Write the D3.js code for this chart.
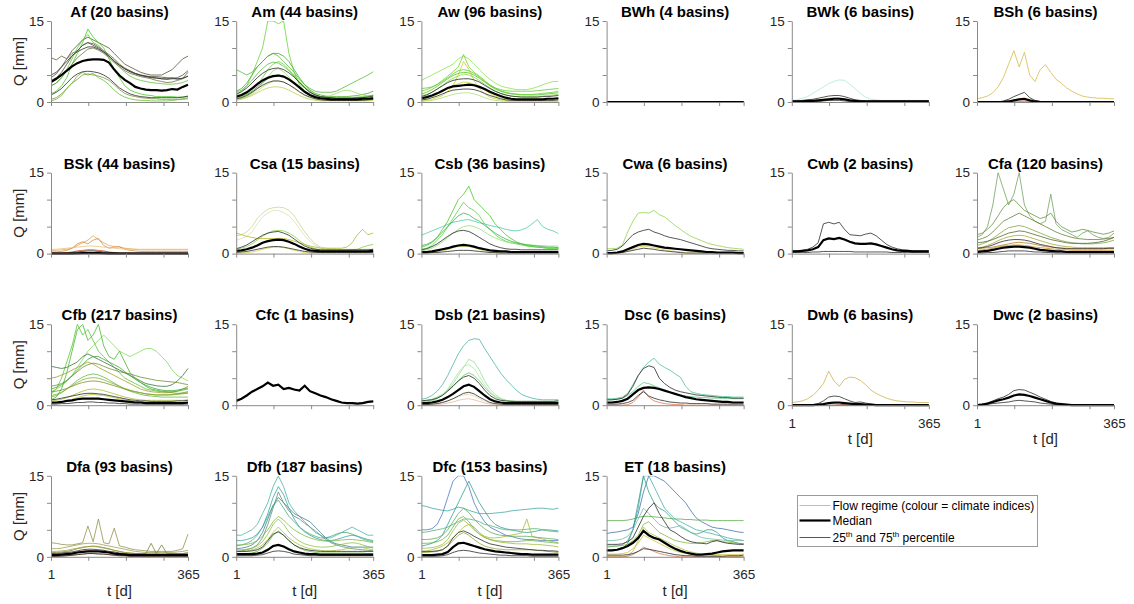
<!DOCTYPE html>
<html>
<head>
<meta charset="utf-8">
<script src="https://cdn.jsdelivr.net/npm/d3@7"></script>
<style>
body { margin: 0; background: #fff; }
text { font-family: "Liberation Sans", Arial, sans-serif; }
</style>
</head>
<body>
<div id="chart"></div>
<script>

// day of year for every stored value (every 14th day)
var days = d3.range(1, 366, 14);

var regimes = ["Af", "Am", "Aw", "BWh", "BWk", "BSh",
               "BSk", "Csa", "Csb", "Cwa", "Cwb", "Cfa",
               "Cfb", "Cfc", "Dsb", "Dsc", "Dwb", "Dwc",
               "Dfa", "Dfb", "Dfc", "ET"];
var basinCounts = [20, 44, 96, 4, 6, 6, 44, 15, 36, 6, 2, 120, 217, 1, 21, 6, 6, 2, 93, 187, 153, 18];

var yTicks = [0, 5, 10, 15];
var xTicks = [1, 100, 200, 300, 365];

// ---- Af
var medAf = [3.7,4.3,5.0,5.8,6.6,7.2,7.6,7.8,7.9,7.9,7.8,7.3,6.0,4.9,4.1,3.5,2.8,2.5,2.3,2.2,2.2,2.1,2.2,2.4,2.3,2.8,3.2];
var p75Af = [5,5.5,6.5,7.5,8.6,9.3,9.8,10.2,10.2,9.8,9.3,8.5,7.6,6.8,6.1,5.6,5.2,4.9,4.7,4.5,4.4,4.3,4.2,4.3,4.3,4.4,4.8];
var p25Af = [1.3,1.8,2.5,3.5,4.5,5.2,5.6,5.7,5.6,5.4,5,4.4,3.5,2.6,2,1.5,1.2,1,0.9,0.8,0.8,0.8,0.8,0.8,0.8,0.9,1.1];
var basAf = [
  [4.5,5.2,6.5,8,9.5,10.5,11.5,12,11.5,11,10.5,10,9,8,7,6.5,6,5.5,5.2,5,5,5,5.5,6,7,8,8.5],
  [8.2,7.8,8.5,8,9,9.5,10.5,11,10.8,10.2,9.5,8.8,8,7,6.3,5.8,5.3,5,4.8,4.6,4.5,4.3,4.3,4.5,4.2,4.4,5.5],
  [3,3.5,4.5,5.8,7,8.2,9,9.8,10,9.6,9,8.2,7.3,6.5,5.8,5.3,5,4.7,4.5,4.3,4,3.8,3.6,3.7,4,4.3,4.8],
  [1.5,2,3,4.5,7,9,11,13.5,12,11,10,8,6,4.5,3,2.2,1.8,1.5,1.3,1.2,1,1,1,1,0.9,0.9,1],
  [0.5,0.8,1.5,2.5,3.5,4.2,5,5.2,5,4.8,4.5,4,3.2,2.3,1.6,1.2,1,0.8,0.7,0.6,0.6,0.5,0.5,0.5,0.5,0.5,0.6],
  [0.2,0.5,1.2,2.5,3.5,4.8,5.5,5,5.3,4.5,4,3.2,2.2,1.4,0.9,0.6,0.4,0.3,0.3,0.2,0.2,0.2,0.2,0.3,0.4,0.6,0.8],
  [4,4.5,5.5,7,8.5,9.5,10.5,11,10.5,10,9.2,8.5,7.5,6.8,6.2,5.7,5.3,5,4.8,4.7,4.7,4.6,4.5,4.4,4.5,5,5.8],
  [3,3.5,4.5,6,8,10,11.5,12.5,11,10.5,9.5,8.5,7.5,6.5,5.5,4.8,4.3,4,3.8,3.6,3.5,3.4,3.3,3.3,3.4,3.6,4]
];
var colAf = ["#4b4a2c", "#56532f", "#6b6a3a", "#3fc41a", "#7d8a3a", "#5dbb2c", "#45432a", "#58c030"];

// ---- Am
var medAm = [1,1.3,1.8,2.5,3.3,4,4.5,4.8,4.9,4.7,4.2,3.5,2.7,1.9,1.3,0.9,0.7,0.6,0.5,0.5,0.5,0.5,0.5,0.5,0.6,0.6,0.7];
var p75Am = [1.5,1.9,2.6,3.5,4.5,5.3,5.9,6.2,6.3,6,5.4,4.6,3.6,2.6,1.8,1.3,1,0.9,0.8,0.7,0.7,0.7,0.7,0.8,0.8,0.9,1.1];
var p25Am = [0.6,0.8,1.2,1.8,2.5,3.1,3.6,3.9,3.9,3.7,3.2,2.6,1.9,1.3,0.9,0.6,0.4,0.3,0.3,0.3,0.3,0.3,0.3,0.3,0.3,0.4,0.5];
var basAm = [
  [1.2,2,3,5,7.5,10,15,15,14.5,15,9,5.5,3.2,2,1.2,0.9,0.7,0.6,0.5,0.5,0.5,0.5,0.5,0.6,0.6,0.7,0.8],
  [6,5.5,5,5.5,6.5,7.5,8.5,9,8.5,7.5,6.5,5.5,4.2,3.2,2.5,2,1.8,1.8,1.8,2,2.5,3,3.5,4,4.5,5,5.6],
  [2,2.5,3.5,5,6.5,7.5,8.5,9,9,8.5,7.5,6,4.5,3.2,2.2,1.6,1.3,1.1,1,1,1,1,1.1,1.2,1.4,1.6,2],
  [0.3,0.5,0.8,1.2,1.7,2.2,2.6,2.8,2.8,2.6,2.2,1.7,1.2,0.8,0.5,0.3,0.2,0.2,0.2,0.2,0.2,0.2,0.2,0.2,0.2,0.2,0.3],
  [1,1.2,1.6,2.3,3.2,4.5,6,7,7.5,7,6,5,3.8,2.8,2,1.4,1,0.8,0.7,0.6,0.6,0.6,0.6,0.7,0.8,1,1.2],
  [0.8,1,1.4,2,2.8,3.6,4.3,4.8,5,4.8,4.3,3.5,2.6,1.8,1.2,0.8,0.6,0.5,0.4,0.4,0.4,0.4,0.4,0.4,0.5,0.5,0.6],
  [0.5,0.7,1,1.6,2.4,3.4,4.6,5.8,6.2,5.6,4.6,3.6,2.6,1.8,1.2,0.9,0.8,0.9,1.2,1.6,2,2.2,2,1.6,1.3,1.1,1],
  [1.8,2.2,3,4,5.2,6.2,7,7.4,7.2,6.6,5.8,4.8,3.6,2.6,1.8,1.3,1,0.9,0.8,0.8,0.8,0.8,0.8,0.9,1,1.1,1.3],
  [0.4,0.6,0.9,1.4,2,2.8,3.4,3.8,3.9,3.7,3.2,2.5,1.8,1.2,0.8,0.5,0.4,0.3,0.3,0.3,0.3,0.3,0.3,0.3,0.3,0.3,0.4]
];
var colAm = ["#5fd22d", "#4cb82a", "#3daa1e", "#b8cc50", "#6cc83c", "#2f9a1c", "#90d860", "#48c030", "#c4d860"];

// ---- Aw
var medAw = [0.7,0.9,1.2,1.6,2.1,2.6,2.9,3,3.1,3.2,3.1,2.8,2.4,1.9,1.5,1.1,0.8,0.6,0.5,0.5,0.5,0.5,0.5,0.5,0.6,0.6,0.7];
var p75Aw = [1,1.3,1.8,2.4,3,3.6,4,4.2,4.3,4.3,4.1,3.7,3.1,2.5,2,1.6,1.3,1.1,1,0.9,0.9,0.9,0.9,1,1,1.1,1.2];
var p25Aw = [0.4,0.5,0.8,1.1,1.5,1.9,2.2,2.3,2.4,2.4,2.3,2,1.6,1.2,0.9,0.6,0.4,0.3,0.3,0.3,0.3,0.3,0.3,0.3,0.3,0.3,0.4];
var basAw = [
  [4,4.5,5,5.5,6,6.5,7,8,8.5,8,7,6,5,4.2,3.5,3,2.7,2.5,2.3,2.3,2.3,2.5,2.8,3.2,3.5,3.8,3.8],
  [2,2.3,2.7,3.3,4,4.8,5.6,6.5,8.8,6.5,5.5,4.8,4,3.2,2.6,2.1,1.8,1.6,1.5,1.4,1.4,1.4,1.5,1.6,1.7,1.8,2],
  [0.2,0.3,0.5,0.8,1.2,2,3,5,7.5,6,4,2.5,1.5,0.9,0.6,0.4,0.3,0.2,0.2,0.2,0.2,0.2,0.2,0.2,0.2,0.2,0.2],
  [1.5,1.8,2.3,2.9,3.6,4.3,4.9,5.3,5.5,5.4,5,4.4,3.7,3,2.4,2,1.7,1.5,1.4,1.3,1.3,1.3,1.3,1.4,1.5,1.6,1.7],
  [0.1,0.2,0.3,0.5,0.8,1.1,1.4,1.6,1.7,1.7,1.5,1.2,0.8,0.5,0.3,0.2,0.1,0.1,0.1,0.1,0.1,0.1,0.1,0.1,0.1,0.1,0.1],
  [2.5,2.6,2.8,3.2,3.8,4.5,5.2,5.8,6,5.8,5.3,4.6,3.8,3.1,2.6,2.3,2.1,2,2,2,2,2,2.1,2.2,2.3,2.4,2.5],
  [1.2,1.4,1.8,2.4,3.1,3.8,4.4,4.8,5.2,5,4.6,4,3.3,2.6,2,1.6,1.3,1.1,1,1,1,1,1,1.1,1.2,1.3,1.4],
  [0.6,0.7,1,1.4,1.9,2.5,3,3.4,3.7,3.6,3.3,2.8,2.2,1.6,1.1,0.8,0.6,0.5,0.5,0.5,0.5,0.5,0.5,0.5,0.6,0.6,0.7]
];
var colAw = ["#86e04a", "#66d41e", "#c8d01e", "#4cc21a", "#a6e070", "#58c828", "#72d83a", "#b4d82c"];

// ---- BWh
var medBWh = [0,0,0,0,0,0,0,0,0,0,0,0,0,0,0,0,0,0,0,0,0,0,0,0,0,0,0];
var p75BWh = medBWh;
var p25BWh = medBWh;
var basBWh = [];
var colBWh = [];

// ---- BWk
var medBWk = [0.1,0.1,0.1,0.2,0.2,0.3,0.4,0.5,0.6,0.6,0.5,0.3,0.2,0.1,0.1,0.1,0.1,0.1,0.1,0.1,0.1,0.1,0.1,0.1,0.1,0.1,0.1];
var p75BWk = [0.2,0.2,0.3,0.4,0.5,0.7,0.9,1.1,1.2,1.2,1,0.7,0.4,0.3,0.2,0.2,0.2,0.2,0.2,0.2,0.2,0.2,0.2,0.2,0.2,0.2,0.2];
var p25BWk = [0,0,0,0.1,0.1,0.1,0.2,0.3,0.3,0.3,0.2,0.1,0.1,0,0,0,0,0,0,0,0,0,0,0,0,0,0];
var basBWk = [
  [0.3,0.4,0.7,1,1.6,2.2,2.8,3.4,3.8,4.1,4,3.3,2.5,1.6,0.9,0.5,0.4,0.3,0.3,0.3,0.3,0.3,0.3,0.3,0.3,0.3,0.3],
  [0.1,0.1,0.2,0.2,0.3,0.4,0.5,0.7,0.8,0.8,0.6,0.4,0.3,0.2,0.2,0.2,0.2,0.2,0.2,0.2,0.2,0.2,0.2,0.2,0.2,0.2,0.2]
];
var colBWk = ["#a8e8d0", "#e0c080"];

// ---- BSh
var medBSh = [0,0,0,0,0,0,0.1,0.3,0.5,0.6,0.3,0.1,0,0,0,0,0,0,0,0,0,0,0,0,0,0,0];
var p75BSh = [0,0,0,0,0,0.2,0.5,1,1.4,1.8,0.8,0.3,0.1,0,0,0,0,0,0,0,0,0,0,0,0,0,0];
var p25BSh = [0,0,0,0,0,0,0,0,0,0,0,0,0,0,0,0,0,0,0,0,0,0,0,0,0,0,0];
var basBSh = [
  [0.6,0.8,1.1,1.7,2.8,4.5,7,9.5,6.5,9.2,5,3.8,6,6.9,5.5,4.2,3.5,2.6,2,1.5,1.1,0.9,0.8,0.7,0.7,0.6,0.6],
  [0,0,0,0,0,0.1,0.2,0.3,0.4,0.3,0.2,0.1,0,0,0,0,0,0,0,0,0,0,0,0,0,0,0]
];
var colBSh = ["#d4b43c", "#e07050"];

// ---- BSk
var medBSk = [0,0,0,0,0,0.05,0.1,0.1,0.1,0.1,0.05,0,0,0,0,0,0,0,0,0,0,0,0,0,0,0,0];
var p75BSk = [0.1,0.1,0.1,0.1,0.2,0.3,0.4,0.5,0.5,0.4,0.3,0.2,0.2,0.1,0.1,0.1,0.1,0.1,0.1,0.1,0.1,0.1,0.1,0.1,0.1,0.1,0.1];
var p25BSk = [0,0,0,0,0,0,0,0,0,0,0,0,0,0,0,0,0,0,0,0,0,0,0,0,0,0,0];
var basBSk = [
  [0.6,0.6,0.7,0.8,1,1.5,2,2.5,3.3,2.6,2,1.5,1.3,1.2,1,0.9,0.8,0.7,0.7,0.7,0.7,0.7,0.7,0.7,0.7,0.7,0.7],
  [0.3,0.3,0.4,0.6,1,1.8,2.2,1.8,2.5,2.8,1.5,1,1.2,1.3,0.8,0.6,0.5,0.4,0.4,0.4,0.4,0.4,0.4,0.4,0.4,0.4,0.4],
  [0.1,0.1,0.1,0.2,0.3,0.5,0.6,0.7,0.7,0.6,0.5,0.3,0.2,0.1,0.1,0.1,0.1,0.1,0.1,0.1,0.1,0.1,0.1,0.1,0.1,0.1,0.1],
  [0.8,0.8,0.9,1,1.1,1.2,1.3,1.4,1.4,1.3,1.2,1.1,1,0.9,0.9,0.8,0.8,0.8,0.8,0.8,0.8,0.8,0.8,0.8,0.8,0.8,0.8]
];
var colBSk = ["#e0a050", "#d08a40", "#c83c20", "#e8c070"];

// ---- Csa
var medCsa = [0.5,0.6,0.8,1.1,1.5,2,2.3,2.5,2.6,2.5,2.2,1.8,1.3,0.9,0.6,0.5,0.4,0.4,0.4,0.4,0.4,0.4,0.4,0.4,0.4,0.4,0.5];
var p75Csa = [0.9,1.2,1.6,2.2,2.8,3.4,3.8,4,4.1,3.8,3.4,2.7,2,1.4,1,0.8,0.7,0.7,0.7,0.7,0.7,0.7,0.7,0.7,0.7,0.7,0.8];
var p25Csa = [0.2,0.3,0.4,0.6,0.8,1,1.2,1.3,1.3,1.2,1,0.8,0.6,0.4,0.3,0.2,0.2,0.2,0.2,0.2,0.2,0.2,0.2,0.2,0.2,0.2,0.2];
var basCsa = [
  [3.3,3.5,4,5,6.5,7.5,8.2,8.5,8.6,8.5,8,7,5.5,4,2.8,1.8,1.2,1,0.9,0.9,0.8,0.8,0.8,0.8,0.8,0.8,0.8],
  [2.5,2.8,3.2,4,5.5,6.8,7.5,8,8,7.6,7,6,4.6,3.3,2.3,1.5,1,0.8,0.7,0.7,0.7,0.7,0.7,0.7,0.7,0.7,0.7],
  [3.8,3.5,3.2,3,2.8,2.8,2.8,2.8,2.8,2.8,2.6,2.3,2,1.7,1.4,1.2,1,1,1,1,1,1.2,2,3.5,4.5,3.5,3.8],
  [0.8,1,1.3,1.8,2.5,3.2,3.8,4.2,4.3,4.2,3.8,3.2,2.4,1.7,1.2,0.9,0.7,0.6,0.6,0.6,0.6,0.6,0.7,0.8,1.2,1.5,1.7],
  [0.1,0.1,0.2,0.3,0.5,0.8,1,1.2,1.2,1.1,0.9,0.6,0.4,0.2,0.1,0.1,0.1,0.1,0.1,0.1,0.1,0.1,0.1,0.1,0.1,0.1,0.1]
];
var colCsa = ["#c4d48c", "#d8e0b0", "#b4b41e", "#7ccc3a", "#d4d040"];

// ---- Csb
var medCsb = [0.3,0.3,0.4,0.6,0.8,1,1.3,1.5,1.6,1.5,1.3,1,0.8,0.6,0.5,0.4,0.4,0.3,0.3,0.3,0.3,0.3,0.3,0.3,0.3,0.3,0.3];
var p75Csb = [0.7,0.9,1.3,1.8,2.5,3.2,3.8,4.2,4.3,4.1,3.6,3,2.4,1.8,1.4,1.1,0.9,0.8,0.8,0.7,0.7,0.7,0.7,0.7,0.7,0.7,0.7];
var p25Csb = [0.1,0.1,0.2,0.2,0.3,0.4,0.5,0.6,0.6,0.6,0.5,0.4,0.3,0.2,0.2,0.1,0.1,0.1,0.1,0.1,0.1,0.1,0.1,0.1,0.1,0.1,0.1];
var basCsb = [
  [3.4,3.8,4.2,4.6,5,5.4,5.8,6,6.2,6.3,6,5.7,5.5,5.2,5,4.8,4.5,4.3,4.2,4.4,4.8,5.5,6.3,5,4.5,4.2,3.7],
  [1.2,1.5,2,3,4.5,6,8,10,11,12.5,10,9,8,7,5.5,4.5,3.5,2.8,2.2,1.8,1.5,1.3,1.2,1.1,1,1,1],
  [0.8,1,1.5,2.5,3.5,5,6.5,8,9.5,8.5,8,7,5.5,4.5,3.5,2.8,2.3,2,1.8,1.6,1.4,1.3,1.2,1.1,1,1,1],
  [0.5,0.7,1,1.5,2.2,3,3.8,4.5,5,5.2,5,4.6,4,3.4,2.9,2.5,2.2,2,1.9,1.8,1.7,1.6,1.5,1.5,1.4,1.4,1.4],
  [0.1,0.1,0.2,0.3,0.5,0.8,1.1,1.3,1.4,1.3,1.1,0.8,0.5,0.3,0.2,0.1,0.1,0.1,0.1,0.1,0.1,0.1,0.1,0.1,0.1,0.1,0.1],
  [1.5,1.7,2.2,3,4,5,6,7,7.5,7.2,6.5,6,5.2,4.5,3.8,3.2,2.7,2.3,2,1.8,1.6,1.5,1.4,1.3,1.2,1.2,1.1]
];
var colCsb = ["#44c8a8", "#3ec81e", "#50d038", "#8ee070", "#c0c830", "#2fb040"];

// ---- Cwa
var medCwa = [0.1,0.1,0.2,0.4,0.8,1.2,1.6,1.8,1.7,1.5,1.3,1.1,1,0.9,0.8,0.7,0.6,0.5,0.4,0.3,0.3,0.2,0.2,0.2,0.2,0.1,0.1];
var p75Cwa = [0.5,0.6,0.8,1.4,2.5,3.5,4,4.3,4.5,4,3.7,3.3,3,2.8,2.6,2.3,2,1.7,1.4,1.1,0.9,0.8,0.7,0.6,0.6,0.5,0.5];
var p25Cwa = [0,0,0.1,0.2,0.4,0.6,0.8,1,0.9,0.8,0.6,0.5,0.4,0.3,0.2,0.1,0.1,0.1,0.1,0.1,0.1,0.1,0.1,0.1,0.1,0.1,0.1];
var basCwa = [
  [0.9,0.9,1,1.6,4,6,7.5,7.6,7.5,8,7.2,6.8,6,5.2,4.5,3.8,3.2,2.8,2.4,2,1.7,1.5,1.3,1.1,1,0.9,0.8],
  [0,0,0.1,0.2,0.5,0.8,1.2,1.4,1.3,1.1,0.9,0.7,0.5,0.4,0.3,0.2,0.1,0.1,0.1,0.1,0.1,0.1,0.1,0.1,0.1,0,0]
];
var colCwa = ["#8cd040", "#d8d040"];

// ---- Cwb
var medCwb = [0.4,0.4,0.5,0.6,0.8,1.2,2.5,2.8,2.7,2.9,2.6,2.2,1.9,1.8,1.8,1.9,1.7,1.4,1.1,0.8,0.6,0.5,0.5,0.4,0.4,0.4,0.4];
var p75Cwb = [0.5,0.5,0.6,0.8,1.2,2,5.5,5.8,5.5,5.8,4.5,3.5,3.4,3.3,3.6,3.8,3.3,2.5,1.7,1.2,0.9,0.7,0.6,0.5,0.5,0.5,0.5];
var p25Cwb = [0.2,0.2,0.2,0.2,0.3,0.3,0.4,0.4,0.4,0.4,0.4,0.4,0.3,0.3,0.3,0.3,0.3,0.3,0.3,0.2,0.2,0.2,0.2,0.2,0.2,0.2,0.2];
var basCwb = [];
var colCwb = [];

// ---- Cfa
var medCfa = [0.3,0.4,0.5,0.7,0.9,1.1,1.2,1.3,1.3,1.2,1.1,0.9,0.7,0.6,0.5,0.4,0.4,0.3,0.3,0.3,0.3,0.3,0.3,0.3,0.3,0.3,0.3];
var p75Cfa = [1,1.1,1.3,1.6,2,2.3,2.5,2.6,2.6,2.5,2.3,2,1.7,1.5,1.3,1.1,1,0.9,0.9,0.9,0.9,0.9,0.9,0.9,0.9,1,1];
var p25Cfa = [0.1,0.1,0.2,0.2,0.3,0.4,0.5,0.5,0.5,0.5,0.4,0.3,0.3,0.2,0.2,0.1,0.1,0.1,0.1,0.1,0.1,0.1,0.1,0.1,0.1,0.1,0.1];
var basCfa = [
  [3,3.5,5,9,15,12,9,11,15,9,7,6,5.5,6,11,5.5,4.5,4,3.5,3,3.8,4.2,3.5,3,2.8,3,3.8],
  [2.5,2.8,3.2,4,5,6,6.5,7,7.5,7,6.5,6,5.5,5,4.5,4,3.6,3.3,3,2.8,2.7,2.6,2.6,2.6,2.7,2.8,3],
  [1.5,1.8,2.2,2.8,3.5,4.2,4.8,5,5.2,5,4.6,4.2,3.8,3.4,3,2.7,2.4,2.2,2,1.9,1.8,1.8,1.8,1.9,2,2.2,2.5],
  [0.6,0.7,0.8,1,1.2,1.4,1.5,1.6,1.6,1.5,1.4,1.2,1.1,1,0.9,0.8,0.7,0.7,0.6,0.6,0.6,0.6,0.6,0.6,0.6,0.6,0.6],
  [1,1.2,1.5,1.9,2.4,2.8,3.1,3.3,3.4,3.3,3,2.7,2.4,2.1,1.8,1.6,1.4,1.3,1.2,1.1,1.1,1.1,1.1,1.1,1.1,1.1,1.1],
  [2,2.1,2.3,2.6,3,3.4,3.8,4,4.2,4.1,3.8,3.5,3.2,2.9,2.6,2.4,2.2,2,1.9,1.9,1.9,1.9,2,2.1,2.3,2.6,3],
  [0.9,1,1.1,1.2,1.4,1.6,1.8,2,2.1,2,1.9,1.7,1.5,1.3,1.2,1.1,1,1,0.9,0.9,0.9,0.9,0.9,0.9,0.9,0.9,0.9],
  [3.5,3.8,4.5,5.5,7,8.5,9.5,10,9,8,7.5,7,6.5,6.8,7.5,6,5,4.5,4,4.2,4.5,4.3,4,3.8,3.6,3.8,4.2]
];
var colCfa = ["#6e9e58", "#5a7a28", "#7aa03a", "#c88a1e", "#a8a028", "#4a6020", "#b07818", "#5e8e3a"];

// ---- Cfb
var medCfb = [0.5,0.5,0.6,0.8,0.9,1.1,1.2,1.2,1.2,1.2,1.1,1,0.9,0.8,0.7,0.6,0.5,0.5,0.4,0.4,0.4,0.4,0.4,0.4,0.4,0.4,0.5];
var p75Cfb = [1,1.1,1.3,1.5,1.7,1.9,2.1,2.2,2.2,2.1,2,1.8,1.6,1.4,1.2,1,0.9,0.8,0.8,0.7,0.7,0.7,0.7,0.7,0.8,0.8,0.9];
var p25Cfb = [0.2,0.2,0.3,0.3,0.4,0.5,0.5,0.6,0.6,0.5,0.5,0.4,0.4,0.3,0.3,0.2,0.2,0.2,0.2,0.2,0.2,0.2,0.2,0.2,0.2,0.2,0.2];
var basCfb = [
  [2,3,5,8,11,15,13,14,12,10,9,8,7,6,5,4.5,4,3.5,3,2.8,2.6,2.5,2.4,2.3,2.2,2.2,2.3],
  [2.5,3,3.5,4.5,5.5,7,8.5,10,11,12,13,12,11,10,9.5,9,9.5,10,10.5,10.5,10,9,8,6.5,5.5,5,4.5],
  [7.2,7,6.8,7,7.5,8,9,9.5,9,8.5,8,7.5,7,6.5,6,5.5,5,4.5,4,3.8,3.6,3.5,3.5,3.8,4.5,5.5,6.8],
  [5,5.2,5.6,6,6.5,7,7.5,8,7.6,7,6.5,6,5.5,5,4.5,4,3.5,3,2.7,2.5,2.4,2.3,2.3,2.4,2.6,3,3.5],
  [3,3.3,3.8,4.5,5.5,6.5,7.5,8.5,9,9,8.5,8,7.5,7,6.2,5.5,4.8,4.2,3.7,3.3,3,2.8,2.7,2.7,2.8,3,3.2],
  [0.3,0.4,0.6,0.8,1.1,1.4,1.7,1.9,2,1.9,1.8,1.6,1.4,1.2,1,0.8,0.7,0.6,0.5,0.5,0.4,0.4,0.4,0.4,0.4,0.4,0.4],
  [1.5,1.8,2.3,3,3.8,4.6,5.2,5.6,5.8,5.6,5.2,4.7,4.1,3.5,3,2.6,2.3,2,1.8,1.7,1.6,1.5,1.5,1.5,1.5,1.5,1.5],
  [2.5,2.6,2.8,3.1,3.5,3.9,4.2,4.4,4.5,4.4,4.2,3.9,3.6,3.3,3,2.7,2.5,2.3,2.1,2,1.9,1.9,1.9,2,2.1,2.3,2.5],
  [1,1.5,3,6,10,14,15,12,13,15,11,9,8.5,10,8,6,5,4.2,3.5,3,2.8,2.6,2.5,2.5,2.6,2.8,3],
  [3.5,3.7,4,4.6,5.4,6.2,7,7.5,7.8,7.6,7.2,6.8,6.5,6.2,6,5.8,5.5,5.2,5,4.8,4.6,4.5,4.4,4.3,4.2,4,3.8],
  [1.8,2,2.4,3,3.6,4.2,4.7,5,5.1,5,4.7,4.3,3.9,3.5,3.1,2.8,2.5,2.3,2.1,2,1.9,1.9,1.9,1.9,2,2.1,2.2],
  [0.8,0.9,1.1,1.4,1.8,2.2,2.6,2.9,3,2.9,2.7,2.4,2.1,1.8,1.5,1.3,1.1,1,0.9,0.9,0.9,0.9,0.9,0.9,0.9,0.9,1]
];
var colCfb = ["#4cc42c", "#7cd85a", "#2e6e2e", "#9a9a20", "#3aa030", "#b0c020", "#5ab83a", "#7a8a20", "#3cb41e", "#6a8a24", "#8aa82a", "#a6b828"];

// ---- Cfc (a single basin, so percentiles equal the median)
var medCfc = [0.8,1.2,1.8,2.5,3,3.5,4.2,3.6,3.8,3,3.2,2.9,2.7,3.6,2.6,2.2,1.8,1.5,1.1,0.8,0.5,0.4,0.4,0.3,0.4,0.6,0.7];
var p75Cfc = medCfc;
var p25Cfc = medCfc;
var basCfc = [];
var colCfc = [];

// ---- Dsb
var medDsb = [0.4,0.4,0.5,0.7,1,1.5,2.1,2.8,3.5,3.8,3.4,2.6,1.8,1.1,0.7,0.5,0.4,0.4,0.4,0.4,0.4,0.4,0.4,0.4,0.4,0.4,0.4];
var p75Dsb = [0.8,0.9,1,1.3,1.8,2.6,3.5,4.5,5.2,5.5,5,4,2.8,1.8,1.2,0.9,0.8,0.7,0.7,0.7,0.7,0.7,0.7,0.7,0.7,0.7,0.8];
var p25Dsb = [0.1,0.1,0.2,0.3,0.5,0.8,1.2,1.7,2.2,2.4,2.1,1.5,1,0.5,0.3,0.2,0.1,0.1,0.1,0.1,0.1,0.1,0.1,0.1,0.1,0.1,0.1];
var basDsb = [
  [1.1,1.3,1.8,2.6,3.8,5.5,7.5,9.5,11,12,12.3,12.2,10.5,9,7.5,6,4.8,3.8,2.8,2,1.6,1.3,1.1,1,1,1,1],
  [0.5,0.6,0.8,1.2,1.8,2.8,4,5.5,7,8.5,8,6.5,4.5,3,2,1.3,0.9,0.7,0.6,0.5,0.5,0.5,0.5,0.5,0.5,0.5,0.5],
  [0.8,0.9,1.1,1.5,2,2.8,3.6,4.5,5.5,6,5.5,4.5,3.3,2.3,1.6,1.1,0.9,0.8,0.7,0.7,0.7,0.7,0.7,0.7,0.7,0.7,0.8],
  [0.1,0.1,0.2,0.3,0.5,0.8,1.2,1.6,1.9,2,1.7,1.2,0.7,0.4,0.2,0.1,0.1,0.1,0.1,0.1,0.1,0.1,0.1,0.1,0.1,0.1,0.1],
  [0,0,0.1,0.1,0.2,0.4,0.6,0.9,1.1,1.2,1,0.7,0.4,0.2,0.1,0,0,0,0,0,0,0,0,0,0,0,0],
  [0.6,0.7,0.9,1.3,2,3,4.5,6,7.2,7.5,6.8,5.3,3.8,2.5,1.6,1.1,0.9,0.8,0.7,0.7,0.7,0.7,0.7,0.7,0.7,0.7,0.7]
];
var colDsb = ["#40b0a0", "#90e090", "#5ec850", "#e0d8a0", "#e0b8a0", "#a8e8a0"];

// ---- Dsc
var medDsc = [0.5,0.5,0.6,0.8,1.2,2,2.8,3.2,3.3,3.2,3,2.7,2.4,2.1,1.8,1.5,1.3,1.1,1,0.9,0.8,0.7,0.6,0.6,0.5,0.5,0.5];
var p75Dsc = [1,1,1.1,1.3,2,3.5,5.5,6.8,7.3,7,5,4,3.3,2.8,2.5,2.3,2.1,1.9,1.8,1.7,1.6,1.5,1.4,1.4,1.3,1.3,1.3];
var p25Dsc = [0.2,0.2,0.2,0.3,0.5,0.9,1.8,2.5,1.7,1.3,1,0.8,0.6,0.5,0.4,0.4,0.3,0.3,0.3,0.3,0.2,0.2,0.2,0.2,0.2,0.2,0.2];
var basDsc = [
  [1.2,1.2,1.3,1.5,2.2,3.8,5.5,7,8,8.7,7.6,7,6.5,5.8,5.2,3.5,2.5,2.2,2,1.9,1.8,1.7,1.6,1.6,1.5,1.5,1.5],
  [1,1,1.1,1.3,1.8,2.5,3.5,4.2,4,3.6,3.2,2.8,2.4,2.1,1.9,1.7,1.6,1.5,1.4,1.4,1.3,1.3,1.3,1.3,1.2,1.2,1.2],
  [0,0,0,0,0.1,0.5,1.5,2.8,1.5,0.8,0.5,0.3,0.2,0.1,0.1,0,0,0,0,0,0,0,0,0,0,0,0]
];
var colDsc = ["#44c090", "#50c878", "#e07048"];

// ---- Dwb
var medDwb = [0,0,0,0,0,0.1,0.2,0.4,0.5,0.5,0.4,0.3,0.2,0.2,0.1,0.1,0,0,0,0,0,0,0,0,0,0,0];
var p75Dwb = [0,0,0,0,0.1,0.3,0.8,1.5,1.7,1.6,1.2,0.8,0.5,0.6,0.4,0.2,0.1,0,0,0,0,0,0,0,0,0,0];
var p25Dwb = [0,0,0,0,0,0,0,0,0,0,0,0,0,0,0,0,0,0,0,0,0,0,0,0,0,0,0];
var basDwb = [
  [0.5,0.6,0.8,1.2,1.8,2.8,4,6.3,4.5,3.5,4.8,5.2,5.1,4.6,3.8,2.8,2.2,1.7,1.3,1,0.8,0.7,0.6,0.6,0.5,0.5,0.5],
  [0,0,0,0,0,0.1,0.2,0.3,0.3,0.2,0.1,0,0,0,0,0,0,0,0,0,0,0,0,0,0,0,0]
];
var colDwb = ["#c8b040", "#c04020"];

// ---- Dwc
var medDwc = [0,0.1,0.3,0.6,0.9,1.1,1.4,1.8,2,1.9,1.7,1.4,1.1,0.8,0.5,0.3,0.2,0.1,0,0,0,0,0,0,0,0,0];
var p75Dwc = [0.1,0.2,0.4,0.8,1.2,1.5,2,2.7,2.9,2.8,2.4,2,1.5,1.1,0.7,0.4,0.2,0.1,0,0,0,0,0,0,0,0,0];
var p25Dwc = [0,0.1,0.2,0.3,0.4,0.5,0.6,0.8,0.9,0.8,0.7,0.6,0.4,0.3,0.2,0.1,0,0,0,0,0,0,0,0,0,0,0];
var basDwc = [];
var colDwc = [];

// ---- Dfa
var medDfa = [0.3,0.3,0.4,0.5,0.6,0.8,0.9,1,1,1,0.9,0.8,0.6,0.5,0.4,0.3,0.3,0.3,0.3,0.3,0.3,0.3,0.3,0.3,0.3,0.3,0.3];
var p75Dfa = [0.6,0.6,0.7,0.8,0.9,1.1,1.3,1.4,1.4,1.3,1.2,1,0.9,0.7,0.6,0.5,0.5,0.5,0.5,0.5,0.5,0.5,0.5,0.5,0.5,0.5,0.5];
var p25Dfa = [0.1,0.1,0.1,0.2,0.3,0.4,0.5,0.6,0.6,0.5,0.5,0.4,0.3,0.2,0.2,0.1,0.1,0.1,0.1,0.1,0.1,0.1,0.1,0.1,0.1,0.1,0.1];
var basDfa = [
  [2.6,2.5,2.3,2.2,2.2,2.4,2.6,5.7,2.8,7,2.6,2.4,5.3,2,1.8,1.5,1.3,1.2,1.1,1,1,1,1,1,1.2,1.5,4.2],
  [1.5,1.5,1.6,1.8,2,2.2,2.4,2.5,2.5,2.4,2.2,2,1.8,1.6,1.4,1.2,1,0.9,0.8,0.8,0.8,0.8,0.8,0.8,0.9,1,1.2],
  [0.8,0.8,0.9,1,1.2,1.5,1.7,1.9,2,1.9,1.7,1.5,1.2,1,0.8,0.7,0.6,0.6,0.6,2.5,0.6,2.2,0.6,0.6,0.6,0.6,0.7],
  [0.1,0.1,0.2,0.2,0.3,0.4,0.5,0.6,0.6,0.6,0.5,0.4,0.3,0.2,0.2,0.1,0.1,0.1,0.1,0.1,0.1,0.1,0.1,0.1,0.1,0.1,0.1],
  [1,1,1.1,1.2,1.4,1.6,1.8,1.9,1.9,1.8,1.6,1.4,1.2,1,0.8,0.7,0.6,0.5,0.5,0.5,0.5,0.5,0.5,0.5,0.5,0.6,0.8],
  [0.4,0.4,0.5,0.6,0.7,0.9,1,1.1,1.1,1,0.9,0.8,0.7,0.5,0.4,0.4,0.3,0.3,0.3,0.3,0.3,0.3,0.3,0.3,0.3,0.3,0.4]
];
var colDfa = ["#8c8c40", "#9a9a50", "#7a7a30", "#d05030", "#a0a040", "#c86a30"];

// ---- Dfb
var medDfb = [0.5,0.5,0.5,0.5,0.6,0.8,1.3,2,2.2,1.9,1.4,1,0.8,0.6,0.5,0.5,0.4,0.4,0.4,0.4,0.4,0.4,0.4,0.4,0.4,0.4,0.4];
var p75Dfb = [1,1,1,1.1,1.3,1.8,3,4.2,4.6,4,3,2.2,1.7,1.4,1.2,1.1,1,1,1,1,1,1,1,1,1,1,1];
var p25Dfb = [0.2,0.2,0.2,0.2,0.3,0.4,0.7,1,1.1,1,0.8,0.5,0.4,0.3,0.2,0.2,0.2,0.2,0.2,0.2,0.2,0.2,0.2,0.2,0.2,0.2,0.2];
var basDfb = [
  [4,4,4.5,5,6,8,10,13,15,13,10,8.5,7.5,6.5,5.5,4.5,4,3.5,3.5,4,4.5,5,5.5,5,4.5,4,4],
  [1.5,1.6,1.8,2.2,3,4.5,7,9.5,11,10,9,8,7.5,7,6.5,5.5,4.5,3.5,2.8,2.4,2.2,2,1.8,1.8,1.8,1.8,1.8],
  [2,2.2,2.5,3,4,5.5,7.5,9.5,10.5,9,7.5,6.5,5.5,4.8,4.2,3.8,3.5,3.5,3.8,4.2,4.5,4.5,4.2,3.8,3.3,3,2.8],
  [1,1.1,1.3,1.6,2.2,3.5,6,9,12,10,8.5,7.5,7,6.2,5.5,4.8,4,3.2,2.6,2.2,1.9,1.7,1.5,1.4,1.3,1.2,1.1],
  [1,1,1.1,1.3,1.6,2.2,3.2,4.5,5.5,4.5,3.5,2.8,2.2,1.8,1.5,1.3,1.2,1.1,1.1,1.2,1.3,1.5,1.7,1.8,1.7,1.5,1.3],
  [0.5,0.5,0.6,0.7,1,1.6,2.6,4,4.8,4,3,2.2,1.6,1.2,1,0.8,0.7,0.7,0.7,0.7,0.7,0.7,0.7,0.7,0.7,0.6,0.6],
  [0.2,0.2,0.3,0.4,0.5,0.8,1.2,1.8,2.2,1.8,1.3,0.9,0.6,0.4,0.3,0.3,0.2,0.2,0.2,0.2,0.2,0.2,0.2,0.2,0.2,0.2,0.2],
  [3,3,3.2,3.5,4.2,5.5,8,11,13,11.5,9,7,5.5,4.6,4,3.5,3.2,3,3,3.2,3.5,3.8,4,3.8,3.5,3.2,3],
  [2.2,2.2,2.3,2.5,3,3.8,5,6.5,7.5,6.8,5.8,5,4.4,3.9,3.5,3.2,3,2.9,2.9,3,3.1,3.2,3.2,3.1,3,2.8,2.6],
  [1.3,1.3,1.4,1.6,2,2.8,4.2,6,7,6,4.6,3.6,2.9,2.4,2.1,1.9,1.8,1.8,1.9,2.1,2.3,2.5,2.6,2.5,2.2,1.9,1.6]
];
var colDfb = ["#40b0a0", "#3a7a9a", "#40a878", "#5a8a6a", "#a0c030", "#60b840", "#c8c850", "#30a0a0", "#78b838", "#8cbc3a"];

// ---- Dfc
var medDfc = [0.3,0.3,0.3,0.4,0.5,0.9,1.8,2.5,2.6,2.3,2,1.7,1.4,1.2,1,0.9,0.8,0.7,0.6,0.5,0.5,0.4,0.4,0.4,0.4,0.4,0.4];
var p75Dfc = [1,1,1,1.1,1.3,2,3.5,4.5,4.8,4.4,3.8,3.3,2.8,2.4,2.2,2,1.8,1.7,1.6,1.5,1.4,1.3,1.2,1.2,1.1,1.1,1];
var p25Dfc = [0.1,0.1,0.1,0.1,0.2,0.4,0.8,1.1,1.2,1.1,0.9,0.7,0.6,0.5,0.4,0.3,0.3,0.2,0.2,0.2,0.2,0.1,0.1,0.1,0.1,0.1,0.1];
var basDfc = [
  [5,5,5.2,6,8,11,14,15,15,13,10,8,6.5,5.5,5,4.5,4,3.8,3.5,3.3,3.2,3.2,3.1,3,3,3,3],
  [9.5,9.3,9,8.8,8.6,8.5,8.8,9.2,9,8.6,8.3,8,8,8,8.1,8.2,8.3,8.5,8.6,8.7,8.8,8.9,9,9,8.9,8.8,9],
  [2,2.2,2.5,3,4,6,8,10,12,14,12,10,8.5,7,6,5.5,5.2,5,4.8,4.6,4.5,4.6,4.8,5,5,4.9,4.8],
  [4.5,4.6,4.8,5,5.2,5.5,6,6.5,7,7,6.8,6.5,6,5.8,5.5,5.2,5,5,5,5,5.1,5.2,5.2,5,4.8,4.7,4.6],
  [1,1.1,1.3,1.6,2,2.6,3.5,4.5,5.5,6,5.5,4.5,3.8,3.5,3.5,3.6,3.8,4,4.2,4.4,7,3.8,3.5,3.3,3,2.8,2.6],
  [2.5,2.5,2.6,2.8,3.2,4,5.5,7,7.5,6.5,5.2,4.2,3.6,3.2,3,2.9,2.8,2.8,2.8,2.9,3,3,2.9,2.8,2.7,2.6,2.5],
  [0.8,0.8,0.9,1,1.3,2,3,4,4.5,4,3.2,2.5,2,1.7,1.5,1.4,1.3,1.3,1.3,1.3,1.3,1.3,1.2,1.1,1,0.9,0.8],
  [3.2,3.2,3.3,3.5,4,5,6.5,8,9,8.2,7,6,5.2,4.6,4.2,4,3.9,3.8,3.8,3.8,3.8,3.7,3.6,3.5,3.4,3.3,3.2],
  [1.6,1.6,1.7,1.9,2.3,3.2,4.8,6.2,6.8,6,5,4.2,3.6,3.2,2.9,2.7,2.6,2.5,2.4,2.4,2.4,2.3,2.3,2.2,2.1,2,1.8]
];
var colDfc = ["#4070c0", "#3aa0a0", "#2a9a8a", "#48b070", "#a8b820", "#60b040", "#8aa030", "#58a858", "#9ab830"];

// ---- ET
var medET = [1.2,1.2,1.3,1.6,2,2.6,3.5,4.8,4,3.5,3.2,2.6,2,1.5,1.1,0.8,0.6,0.4,0.4,0.5,0.6,0.8,1,1.1,1.2,1.2,1.2];
var p75ET = [2.3,2.3,2.3,2.4,2.8,3.5,5.5,7.5,9,10,8,6.5,5,4.5,3.8,3.2,2.8,2.6,2.5,2.4,2.8,3,2.7,2.5,2.4,2.3,2.3];
var p25ET = [0.3,0.3,0.3,0.3,0.4,0.6,1,1.5,1.4,1.2,1,0.8,0.6,0.4,0.3,0.2,0.2,0.1,0.1,0.1,0.1,0.1,0.1,0.2,0.2,0.2,0.3];
var basET = [
  [4.3,4.5,4.6,4.8,5,5.5,8,12,15,15,14.5,14,13,12,11,10,8.5,7.2,6.5,6,5.5,5.3,5.2,5,4.8,4.6,4.5],
  [6.7,6.7,6.7,6.7,6.8,7,7.3,7.5,7.5,7.4,7.3,7.2,7.1,7,7,6.9,6.9,6.8,6.8,6.8,6.7,6.7,6.7,6.7,6.7,6.7,6.7],
  [1.8,1.9,2,2.2,3,5,9,15,15,13,11,9,8,7,6.5,6,5.5,5,4.8,4.5,4.3,4,3.8,3.5,3.3,3.2,3],
  [1.2,1.2,1.3,1.5,2.5,5,10,15,12,10,9,8.5,7.5,6.5,5.5,5,4.5,4.2,4.5,5,5,4.5,3.5,3,2.8,2.5,2.4],
  [0.5,0.5,0.5,0.6,0.8,1.5,2.5,4,3.5,3,2.5,2,1.5,1.1,0.8,0.6,0.5,0.4,0.4,0.4,0.4,0.4,0.4,0.4,0.4,0.4,0.5],
  [0,0,0,0,0.2,1,3,5.5,4.5,4,3.5,3,2.5,2,1.6,1.2,0.9,0.7,0.5,0.4,0.3,0.2,0.1,0,0,0,0],
  [0,0,0,0,0.1,0.4,1,1.8,1.4,1,0.6,0.4,0.2,0.1,0,0,0,0,0,0,0,0,0,0,0,0,0],
  [2,2,2,2.1,2.3,3,4,6,6.5,5.5,4.5,4,3.5,3,2.8,2.6,2.5,2.5,2.6,2.8,3,3,2.8,2.7,2.6,2.5,2.4],
  [3,3,3.1,3.3,3.8,5,7,9,8,7,6,5.5,5.3,5.5,5.8,5.2,4.5,4,3.6,3.4,3.3,3.2,3.1,3,3,3,3]
];
var colET = ["#3a6ab0", "#50a840", "#40a8a0", "#2e9a80", "#c8c030", "#a0c040", "#e07050", "#80b030", "#6ab8a0"];

var medians = [medAf, medAm, medAw, medBWh, medBWk, medBSh, medBSk, medCsa, medCsb, medCwa, medCwb, medCfa,
               medCfb, medCfc, medDsb, medDsc, medDwb, medDwc, medDfa, medDfb, medDfc, medET];
var upper = [p75Af, p75Am, p75Aw, p75BWh, p75BWk, p75BSh, p75BSk, p75Csa, p75Csb, p75Cwa, p75Cwb, p75Cfa,
             p75Cfb, p75Cfc, p75Dsb, p75Dsc, p75Dwb, p75Dwc, p75Dfa, p75Dfb, p75Dfc, p75ET];
var lower = [p25Af, p25Am, p25Aw, p25BWh, p25BWk, p25BSh, p25BSk, p25Csa, p25Csb, p25Cwa, p25Cwb, p25Cfa,
             p25Cfb, p25Cfc, p25Dsb, p25Dsc, p25Dwb, p25Dwc, p25Dfa, p25Dfb, p25Dfc, p25ET];
var basins = [basAf, basAm, basAw, basBWh, basBWk, basBSh, basBSk, basCsa, basCsb, basCwa, basCwb, basCfa,
              basCfb, basCfc, basDsb, basDsc, basDwb, basDwc, basDfa, basDfb, basDfc, basET];
var colours = [colAf, colAm, colAw, colBWh, colBWk, colBSh, colBSk, colCsa, colCsb, colCwa, colCwb, colCfa,
               colCfb, colCfc, colDsb, colDsc, colDwb, colDwc, colDfa, colDfb, colDfc, colET];

var panels = regimes.map(function(r, i) {
	return { name: r, n: basinCounts[i], med: medians[i], p75: upper[i], p25: lower[i],
	         basins: basins[i], colours: colours[i] };
});

var w = 1134, h = 604;
var pw = 137, ph = 81;
var axisGrey = "#8a8a8a", textGrey = "#262626";

var svg = d3.select("#chart")
	.append("svg")
	.attr("width", w)
	.attr("height", h);

panels.forEach(function(p, i) {
	var col = i % 6, row = Math.floor(i / 6);
	var x0 = 51 + col * 185.2;
	var y0 = 21 + row * 151.6;
	var bottomRow = i >= 16; // last panel of every column gets x labels

	var xScale = d3.scaleLinear().domain([1, 365]).range([x0, x0 + pw]);
	var yScale = d3.scaleLinear().domain([0, 15]).range([y0 + ph, y0]);

	svg.append("clipPath")
		.attr("id", "clip" + i)
		.append("rect")
		.attr("x", x0)
		.attr("y", y0)
		.attr("width", pw + 1)
		.attr("height", ph + 2);

	var line = d3.line()
		.x(function(d, k) { return xScale(days[k]); })
		.y(function(d) { return yScale(d); });

	var g = svg.append("g").attr("clip-path", "url(#clip" + i + ")");

	g.selectAll("path.basin")
		.data(p.basins)
		.enter()
		.append("path")
		.attr("class", "basin")
		.attr("d", line)
		.attr("fill", "none")
		.attr("stroke", function(d, k) { return p.colours[k]; })
		.attr("stroke-width", 0.75);

	g.selectAll("path.pct")
		.data([p.p25, p.p75])
		.enter()
		.append("path")
		.attr("class", "pct")
		.attr("d", line)
		.attr("fill", "none")
		.attr("stroke", "#2b2b2b")
		.attr("stroke-width", 0.8);

	g.append("path")
		.attr("d", line(p.med))
		.attr("fill", "none")
		.attr("stroke", "#000")
		.attr("stroke-width", 2.2);

	// axes (left and bottom only)
	var yAxis = d3.axisLeft(yScale)
		.tickValues(yTicks)
		.tickSize(4)
		.tickSizeOuter(0)
		.tickPadding(3)
		.tickFormat(function(d) { return (d === 0 || d === 15) ? d : ""; });
	var xAxis = d3.axisBottom(xScale)
		.tickValues(xTicks)
		.tickSize(4)
		.tickSizeOuter(0)
		.tickPadding(9)
		.tickFormat(function(d) { return bottomRow && (d === 1 || d === 365) ? d : ""; });

	var yg = svg.append("g").attr("transform", "translate(" + x0 + ",0)").call(yAxis);
	var xg = svg.append("g").attr("transform", "translate(0," + (y0 + ph) + ")").call(xAxis);
	[yg, xg].forEach(function(a) {
		a.selectAll(".domain, line").attr("stroke", axisGrey);
		a.selectAll("text")
			.attr("fill", textGrey)
			.style("font-size", "13.5px")
			.style("font-family", "'Liberation Sans', Arial, sans-serif");
	});

	svg.append("text")
		.attr("x", x0 + pw / 2)
		.attr("y", y0 - 4)
		.attr("text-anchor", "middle")
		.style("font-size", "15px")
		.style("font-weight", "bold")
		.attr("fill", "#000")
		.text(p.name + " (" + p.n + " basins)");

	if (col === 0) {
		svg.append("text")
			.attr("transform", "translate(24," + (y0 + ph / 2) + ") rotate(-90)")
			.attr("text-anchor", "middle")
			.style("font-size", "15px")
			.attr("fill", textGrey)
			.text("Q [mm]");
	}
	if (bottomRow) {
		svg.append("text")
			.attr("x", x0 + pw / 2)
			.attr("y", y0 + ph + 39)
			.attr("text-anchor", "middle")
			.style("font-size", "15px")
			.attr("fill", textGrey)
			.text("t [d]");
	}
});

// legend
var lg = svg.append("g").attr("transform", "translate(797.5,495.5)");
lg.append("rect")
	.attr("width", 240)
	.attr("height", 51)
	.attr("fill", "#fff")
	.attr("stroke", "#9a9a9a")
	.attr("stroke-width", 1);

var legendItems = [
	{ y: 10, colour: "#7fdcc0", width: 1, label: "Flow regime (colour = climate indices)" },
	{ y: 25, colour: "#000", width: 2.2, label: "Median" },
	{ y: 42, colour: "#2b2b2b", width: 0.8, label: null }
];
legendItems.forEach(function(it) {
	lg.append("line")
		.attr("x1", 2).attr("x2", 33)
		.attr("y1", it.y).attr("y2", it.y)
		.attr("stroke", it.colour)
		.attr("stroke-width", it.width);
	var t = lg.append("text")
		.attr("x", 35)
		.attr("y", it.y + 4.5)
		.style("font-size", "12px")
		.attr("fill", "#000");
	if (it.label) {
		t.text(it.label);
	} else {
		t.append("tspan").text("25");
		t.append("tspan").attr("dy", -5).style("font-size", "8px").text("th");
		t.append("tspan").attr("dy", 5).text(" and 75");
		t.append("tspan").attr("dy", -5).style("font-size", "8px").text("th");
		t.append("tspan").attr("dy", 5).text(" percentile");
	}
});

</script>
</body>
</html>
